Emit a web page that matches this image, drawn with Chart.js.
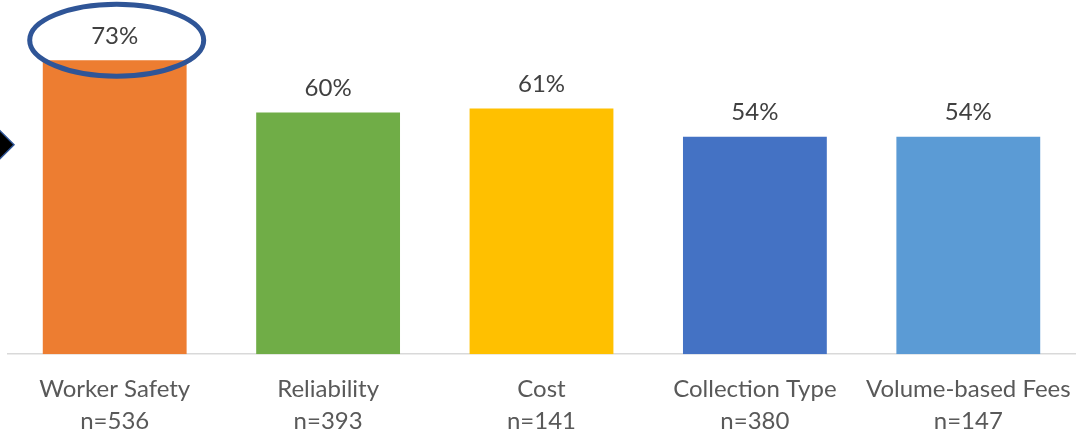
<!DOCTYPE html>
<html>
<head>
<meta charset="utf-8">
<script src="https://cdn.jsdelivr.net/npm/chart.js@4/dist/chart.umd.min.js"></script>
<style>
  html, body { margin: 0; padding: 0; background: #ffffff; }
  #wrap { width: 1078px; height: 441px; position: relative; }
</style>
</head>
<body>
<div id="wrap"><canvas id="factorChart"></canvas></div>
<script>
const categories = ['Worker Safety', 'Reliability', 'Cost', 'Collection Type', 'Volume-based Fees'];
const sampleSizes = ['n=536', 'n=393', 'n=141', 'n=380', 'n=147'];
const percentValues = [73, 60, 61, 54, 54];
const barColors = ['#ED7D31', '#70AD47', '#FFC000', '#4472C4', '#5B9BD5'];
const highlightIndex = 0;

const FONT = 'Lato, Carlito, Calibri, sans-serif';

// labels above each bar
const valueLabels = {
  id: 'valueLabels',
  afterDatasetsDraw(chart) {
    const ctx = chart.ctx;
    const meta = chart.getDatasetMeta(0);
    ctx.save();
    ctx.fillStyle = '#404040';
    ctx.font = '24px ' + FONT;
    ctx.textAlign = 'center';
    ctx.textBaseline = 'middle';
    meta.data.forEach((bar, i) => {
      ctx.fillText(percentValues[i] + '%', bar.x, bar.y - 24);
    });
    ctx.restore();
  }
};

// ellipse round the highlighted label + arrow on the left
const callouts = {
  id: 'callouts',
  afterDraw(chart) {
    const ctx = chart.ctx;
    const bar = chart.getDatasetMeta(0).data[highlightIndex];
    ctx.save();
    ctx.strokeStyle = '#2F5597';
    ctx.lineWidth = 5;
    ctx.beginPath();
    ctx.ellipse(bar.x + 2, bar.y - 20, 87, 36, 0, 0, Math.PI * 2);
    ctx.stroke();

    const ay = chart.scales.y.getPixelForValue(52);
    ctx.beginPath();
    ctx.moveTo(-14, ay);
    ctx.lineTo(0, ay - 14);
    ctx.lineTo(14, ay);
    ctx.lineTo(0, ay + 14);
    ctx.closePath();
    ctx.fillStyle = '#000000';
    ctx.fill();
    ctx.lineWidth = 1.5;
    ctx.stroke();
    ctx.restore();
  }
};

new Chart(document.getElementById('factorChart'), {
  type: 'bar',
  data: {
    labels: categories.map((c, i) => [c, sampleSizes[i]]),
    datasets: [{
      data: percentValues,
      backgroundColor: barColors,
      categoryPercentage: 1,
      barPercentage: 0.674
    }]
  },
  options: {
    responsive: true,
    maintainAspectRatio: false,
    animation: false,
    layout: { padding: { left: 8, right: 3, top: 32, bottom: 4 } },
    plugins: {
      legend: { display: false },
      tooltip: { enabled: false }
    },
    scales: {
      x: {
        grid: { display: false, drawTicks: true, tickLength: 19 },
        border: { color: '#D9D9D9', width: 1.5 },
        ticks: {
          color: '#595959',
          font: { family: FONT, size: 24, lineHeight: 1.33 },
          padding: 0,
          maxRotation: 0,
          autoSkip: false
        }
      },
      y: {
        display: false,
        min: 0,
        max: 80
      }
    }
  },
  plugins: [valueLabels, callouts]
});
</script>
</body>
</html>
